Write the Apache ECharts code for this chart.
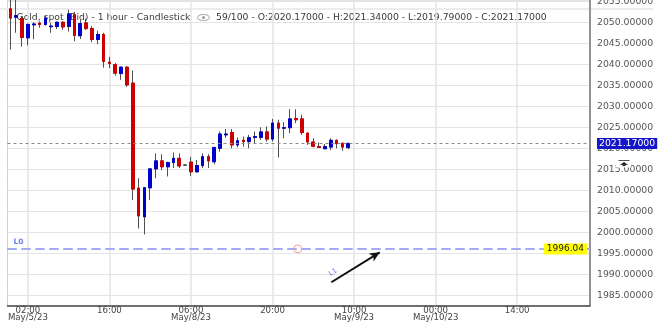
<!DOCTYPE html>
<html><head><meta charset="utf-8">
<script src="https://cdn.jsdelivr.net/npm/echarts@6/dist/echarts.min.js"></script>
<style>html,body{margin:0;padding:0;background:#fff}#c{width:672px;height:326px}</style>
</head><body><div id="c"></div>
<script>
// ---- categories (hourly bars, trading hours only) ----
const categories = [
'May/4/23 23:00',
'May/5/23 00:00','May/5/23 01:00','May/5/23 02:00','May/5/23 03:00','May/5/23 04:00','May/5/23 05:00','May/5/23 06:00','May/5/23 07:00','May/5/23 08:00','May/5/23 09:00','May/5/23 10:00','May/5/23 11:00','May/5/23 12:00','May/5/23 13:00','May/5/23 14:00','May/5/23 15:00','May/5/23 16:00','May/5/23 17:00','May/5/23 18:00','May/5/23 19:00','May/5/23 20:00','May/5/23 21:00',
'May/7/23 22:00','May/7/23 23:00',
'May/8/23 00:00','May/8/23 01:00','May/8/23 02:00','May/8/23 03:00','May/8/23 04:00','May/8/23 05:00','May/8/23 06:00','May/8/23 07:00','May/8/23 08:00','May/8/23 09:00','May/8/23 10:00','May/8/23 11:00','May/8/23 12:00','May/8/23 13:00','May/8/23 14:00','May/8/23 15:00','May/8/23 16:00','May/8/23 17:00','May/8/23 18:00','May/8/23 19:00','May/8/23 20:00','May/8/23 21:00','May/8/23 22:00','May/8/23 23:00',
'May/9/23 00:00','May/9/23 01:00','May/9/23 02:00','May/9/23 03:00','May/9/23 04:00','May/9/23 05:00','May/9/23 06:00','May/9/23 07:00','May/9/23 08:00','May/9/23 09:00','May/9/23 10:00','May/9/23 11:00','May/9/23 12:00','May/9/23 13:00','May/9/23 14:00','May/9/23 15:00','May/9/23 16:00','May/9/23 17:00','May/9/23 18:00','May/9/23 19:00','May/9/23 20:00','May/9/23 21:00','May/9/23 22:00','May/9/23 23:00',
'May/10/23 00:00','May/10/23 01:00','May/10/23 02:00','May/10/23 03:00','May/10/23 04:00','May/10/23 05:00','May/10/23 06:00','May/10/23 07:00','May/10/23 08:00','May/10/23 09:00','May/10/23 10:00','May/10/23 11:00','May/10/23 12:00','May/10/23 13:00','May/10/23 14:00','May/10/23 15:00','May/10/23 16:00','May/10/23 17:00','May/10/23 18:00','May/10/23 19:00','May/10/23 20:00','May/10/23 21:00','May/10/23 22:00','May/10/23 23:00',
'May/11/23 00:00','May/11/23 01:00','May/11/23 02:00'
];
const xTickCategories = ['May/5/23 02:00','May/5/23 16:00','May/8/23 06:00','May/8/23 20:00','May/9/23 10:00','May/10/23 00:00','May/10/23 14:00'];

// ---- OHLC values (59 candles) ----
const openV = [2053.2,2051.2,2050.9,2046.3,2049.4,2049.8,2049.5,2048.95,2049.0,2050.0,
2049.0,2051.8,2046.8,2049.85,2048.5,2045.9,2047.1,2040.5,2039.9,2037.8,
2039.3,2035.5,2010.5,2003.7,2010.6,2015.1,2017.0,2015.6,2016.6,2017.6,
2016.0,2016.7,2014.4,2015.9,2018.0,2016.8,2020.0,2023.2,2023.75,2020.8,
2021.9,2021.6,2022.6,2022.6,2023.9,2022.2,2026.0,2024.8,2024.9,2027.1,
2027.0,2023.6,2021.5,2020.4,2019.9,2020.3,2021.9,2021.2,2020.17];
const highV = [2056.5,2056.5,2051.5,2049.7,2050.0,2050.2,2051.5,2049.9,2050.2,2050.3,
2053.0,2052.5,2050.6,2050.9,2049.1,2048.0,2047.5,2041.8,2040.3,2039.5,
2039.6,2038.5,2012.9,2010.8,2015.3,2018.8,2018.6,2016.8,2019.0,2018.8,
2016.1,2018.0,2017.2,2018.8,2018.6,2020.4,2024.0,2024.6,2024.6,2022.6,
2022.8,2023.2,2024.0,2025.0,2025.2,2027.0,2026.8,2026.2,2029.3,2029.3,
2028.0,2023.8,2022.4,2021.4,2021.0,2022.4,2022.1,2021.3,2021.34];
const lowV = [2043.5,2047.5,2044.2,2044.5,2046.0,2048.7,2049.2,2047.5,2048.4,2048.2,
2047.8,2045.5,2046.0,2048.2,2045.3,2044.8,2039.2,2039.1,2037.3,2036.3,
2034.6,2007.7,2000.9,1999.5,2007.7,2012.9,2014.8,2013.3,2015.3,2015.3,
2015.9,2013.4,2014.3,2015.3,2015.3,2016.2,2019.2,2022.5,2020.0,2020.2,
2020.4,2020.0,2021.2,2022.0,2021.6,2021.6,2017.8,2022.4,2023.6,2026.0,
2023.2,2020.8,2020.2,2020.1,2019.8,2019.6,2020.0,2019.4,2019.79];
const closeV = [2051.0,2051.6,2046.4,2049.5,2049.6,2049.5,2051.0,2049.1,2050.0,2048.9,
2052.0,2046.9,2049.7,2048.5,2045.9,2047.1,2040.7,2040.2,2037.9,2039.3,
2035.1,2010.3,2003.9,2010.6,2015.1,2017.0,2015.6,2016.6,2017.6,2015.8,
2016.0,2014.4,2015.9,2018.0,2017.0,2020.2,2023.4,2023.4,2020.8,2021.8,
2021.6,2022.5,2022.8,2023.9,2022.2,2026.0,2024.8,2024.9,2027.0,2026.8,
2023.75,2021.5,2020.5,2020.2,2020.4,2021.9,2021.1,2020.3,2021.17];

// ---- annotations ----
const levelL0 = 1996.04;
const circleMark = [49.33, 1996.04];
const arrowFrom = [55.1, 1988.1];
const arrowTo = [63.4, 1995.24];
const yTickFrom = 1982.57, yTickTo = 2055.31, yStep = 5;

const FONT = 'DejaVu Sans';
const n = closeV.length;
const last = n - 1;
const full = openV.map((o, i) => [o, closeV[i], lowV[i], highV[i]]);
const bodies = openV.map((o, i) => [o, closeV[i], Math.min(o, closeV[i]), Math.max(o, closeV[i])]);
const RED = '#cc0000', BLUE = '#0000cc', WICK = '#505050';

const titleA = 'Gold, spot (Bid) - 1 hour - Candlestick';
const titleB = n + '/' + categories.length + ' - O:' + openV[last].toFixed(5) + ' - H:' + highV[last].toFixed(5) +
  ' - L:' + lowV[last].toFixed(5) + ' - C:' + closeV[last].toFixed(5);

const isTick = (v) => xTickCategories.indexOf(v) >= 0;

const chart = echarts.init(document.getElementById('c'), null, {renderer: 'canvas'});
chart.setOption({
  animation: false,
  backgroundColor: '#fff',
  grid: {left: 7.5, right: 82, top: 0, bottom: 20.5, containLabel: false, outerBoundsMode: 'none',
         show: true, borderColor: '#cfcfcf', borderWidth: 1, backgroundColor: 'transparent'},
  xAxis: [{
    type: 'category', data: categories, boundaryGap: true,
    axisLine: {show: true, onZero: false, lineStyle: {color: '#444', width: 1.5}},
    axisTick: {show: false},
    axisLabel: {interval: (i, v) => isTick(v), color: '#444', fontFamily: FONT, fontSize: 8.6, lineHeight: 7.5, margin: 1.5,
      formatter: (v) => {
        const p = v.split(' '); const k = xTickCategories.indexOf(v);
        const prev = k > 0 ? xTickCategories[k - 1].split(' ')[0] : null;
        return p[0] !== prev ? p[1] + '\n' + p[0] : p[1];
      }},
    splitLine: {show: true, interval: (i, v) => isTick(v), alignWithLabel: true, lineStyle: {color: '#e4e4e4', width: 1.5}}
  }, {
    type: 'value', show: false, min: -0.5, max: categories.length - 0.5,
    axisLine: {show: false, onZero: false}
  }],
  yAxis: {
    type: 'value', position: 'right', min: yTickFrom, max: yTickTo, minInterval: yStep, maxInterval: yStep, splitNumber: 14,
    axisLine: {show: true, onZero: false, lineStyle: {color: '#777', width: 1.5}},
    axisTick: {show: false},
    axisLabel: {color: '#555', fontFamily: FONT, fontSize: 9.3, margin: 7, showMinLabel: false, showMaxLabel: false,
      formatter: (v) => v.toFixed(5)},
    splitLine: {show: true, lineStyle: {color: '#e4e4e4', width: 1}}
  },
  graphic: [
    {type: 'rect', z: 0, shape: {x: 0, y: 8, width: 653, height: 2}, style: {fill: '#ececec'}},
    {type: 'text', z: 0, x: 16.5, y: 17.5, style: {text: titleA, fill: '#3a3a3a', font: '9.24px "DejaVu Sans"', verticalAlign: 'middle'}},
    {type: 'ellipse', z: 0, shape: {cx: 203.5, cy: 17.5, rx: 6, ry: 3}, style: {fill: 'none', stroke: '#9a9a9a', lineWidth: 1}},
    {type: 'circle', z: 0, shape: {cx: 203.5, cy: 17.5, r: 1.5}, style: {fill: '#9a9a9a'}},
    {type: 'text', z: 0, x: 216, y: 17.5, style: {text: titleB, fill: '#3a3a3a', font: '9.24px "DejaVu Sans"', verticalAlign: 'middle'}},
    {type: 'rect', z: 100, shape: {x: 616, y: 157.5, width: 15, height: 10}, style: {fill: '#fff'}},
    {type: 'line', z: 101, shape: {x1: 618.5, y1: 160.5, x2: 629.5, y2: 160.5}, style: {stroke: '#555', lineWidth: 1}},
    {type: 'polygon', z: 101, shape: {points: [[624, 162], [627, 164.3], [624, 166.5], [621, 164.3]]}, style: {fill: '#222'}},
    {type: 'line', z: 101, shape: {x1: 620.5, y1: 164.5, x2: 627.5, y2: 164.5}, style: {stroke: '#333', lineWidth: 1}}
  ],
  series: [{
    name: 'wicks', type: 'candlestick', data: full, barWidth: 3.2,
    itemStyle: {color: BLUE, color0: RED, borderColor: WICK, borderColor0: WICK, borderColorDoji: WICK, borderWidth: 1},
    markLine: {
      silent: true, symbol: ['none', 'none'],
      data: [
        {yAxis: closeV[last], lineStyle: {color: '#8a8a8a', type: [3, 3], width: 1},
         label: {show: true, position: 'end', distance: 7, formatter: closeV[last].toFixed(5), color: '#fff',
                 backgroundColor: '#1414c8', padding: [1, 2], fontFamily: FONT, fontSize: 9.3}},
        {yAxis: levelL0, lineStyle: {color: '#a4aaf6', type: [9, 5], width: 2},
         label: {show: true, position: 'insideStartTop', distance: [6, 3], formatter: 'L0', color: '#6a7ef0',
                 fontFamily: FONT, fontSize: 7.5, fontWeight: 'bold'}},
        {yAxis: levelL0, lineStyle: {color: '#a4aaf6', type: [9, 5], width: 2},
         label: {show: true, position: 'insideEnd', distance: 3, formatter: levelL0.toFixed(2), color: '#222',
                 backgroundColor: '#ffff00', padding: [1, 3], fontFamily: FONT, fontSize: 9}}
      ]
    }
  }, {
    name: 'bodies', type: 'candlestick', data: bodies, barWidth: 3.2,
    itemStyle: {color: BLUE, color0: RED, borderColor: BLUE, borderColor0: RED, borderColorDoji: WICK, borderWidth: 1}
  }, {
    name: 'annotations', type: 'line', xAxisIndex: 1, yAxisIndex: 0, data: [], showSymbol: false,
    markPoint: {silent: true, symbol: 'circle', symbolSize: 8, label: {show: false},
      itemStyle: {color: 'rgba(0,0,0,0)', borderColor: '#f2a0a0', borderWidth: 1},
      data: [{coord: circleMark}]},
    markLine: {silent: true,
      data: [[{coord: arrowFrom, symbol: 'none'}, {coord: arrowTo, symbol: 'arrow', symbolSize: [7, 10]}]],
      lineStyle: {color: '#111', type: 'solid', width: 2},
      label: {show: true, position: 'insideStartTop', distance: [2.5, 4], formatter: 'L1', color: '#6a7ef0',
              fontFamily: FONT, fontSize: 7}}
  }]
});
</script>
</body></html>
